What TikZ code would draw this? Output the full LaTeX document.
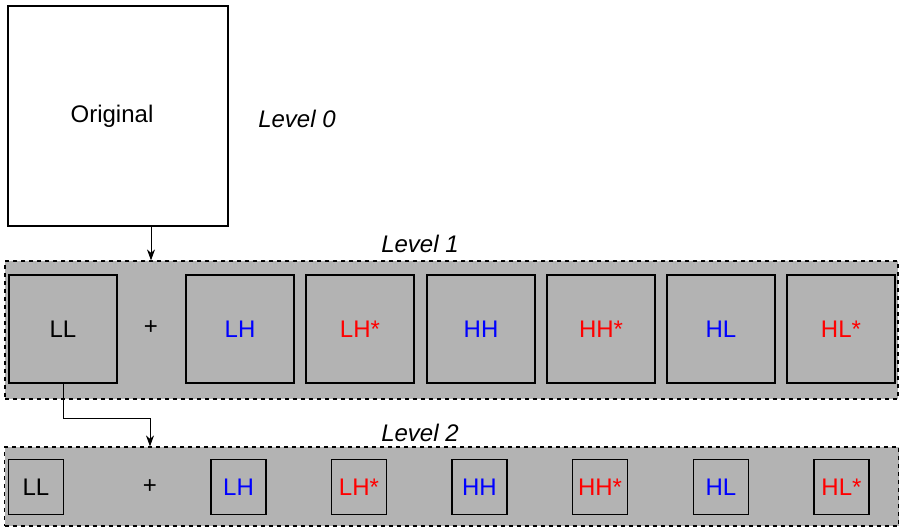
\documentclass[tikz,border=0pt]{standalone}
\usepackage{fontspec}
\setmainfont{Liberation Sans}
\usetikzlibrary{arrows.meta}
\definecolor{bandgray}{RGB}{179,179,179}
\definecolor{cblue}{RGB}{0,0,255}
\definecolor{cred}{RGB}{255,0,0}
\tikzset{
  band/.style={draw=black, fill=bandgray, dash pattern=on 4pt off 4pt, line width=1.2pt},
  bigbox/.style={draw=black, line width=1.2pt, minimum size=108pt, inner sep=0pt},
  smallbox/.style={draw=black, line width=1.2pt, minimum size=55pt, inner sep=0pt},
  lbl/.style={font=\fontsize{24}{28}\selectfont, inner sep=0pt},
  lvl/.style={font=\fontsize{24}{28}\selectfont\itshape, inner sep=0pt},
  conn/.style={line width=1pt, -{Stealth[length=11pt,width=8pt,inset=3.5pt]}},
  lo/.style={text=cblue},
  hi/.style={text=cred}
}
\begin{document}
\begin{tikzpicture}[x=1pt,y=-1pt]
\useasboundingbox (0,0) rectangle (903,527);

% level 0
\node[draw=black, line width=1.2pt, minimum size=220pt, inner sep=0pt] (orig) at (118,116) {};
\node[lbl] (origtxt) at (112,116) {Original};
\node[lvl] (lv0) at (297,119) {Level 0};

% level 1 band
\node[band, minimum width=893pt, minimum height=138pt, inner sep=0pt] (band1) at (451.5,330) {};
\node[lvl] (lv1) at (420,244) {Level 1};
\node[bigbox, lbl] (ll1) at (63,329) {LL};
\node[lbl] (plus1) at (151,328) {+};
\node[bigbox, lbl, lo] (lh1) at (240,329) {LH};
\node[bigbox, lbl, hi] (lhs1) at (360,329) {LH*};
\node[bigbox, lbl, lo] (hh1) at (481,329) {HH};
\node[bigbox, lbl, hi] (hhs1) at (601,329) {HH*};
\node[bigbox, lbl, lo] (hl1) at (721,329) {HL};
\node[bigbox, lbl, hi] (hls1) at (841,329) {HL*};

% level 2 band
\node[band, minimum width=894pt, minimum height=79pt, inner sep=0pt] (band2) at (451.5,486.5) {};
\node[lvl] (lv2) at (420,433) {Level 2};
\node[smallbox, lbl] (ll2) at (36,487) {LL};
\node[lbl] (plus2) at (150,487) {+};
\node[smallbox, lbl, lo] (lh2) at (238.5,487) {LH};
\node[smallbox, lbl, hi] (lhs2) at (359,487) {LH*};
\node[smallbox, lbl, lo] (hh2) at (479.5,487) {HH};
\node[smallbox, lbl, hi] (hhs2) at (600,487) {HH*};
\node[smallbox, lbl, lo] (hl2) at (721,487) {HL};
\node[smallbox, lbl, hi] (hls2) at (841.5,487) {HL*};

% connectors
\draw[conn] (orig.south -| plus1) -- (band1.north -| plus1);
\draw[conn] (ll1.south) -- ++(0,35) -| (band2.north -| plus2);
\end{tikzpicture}
\end{document}
